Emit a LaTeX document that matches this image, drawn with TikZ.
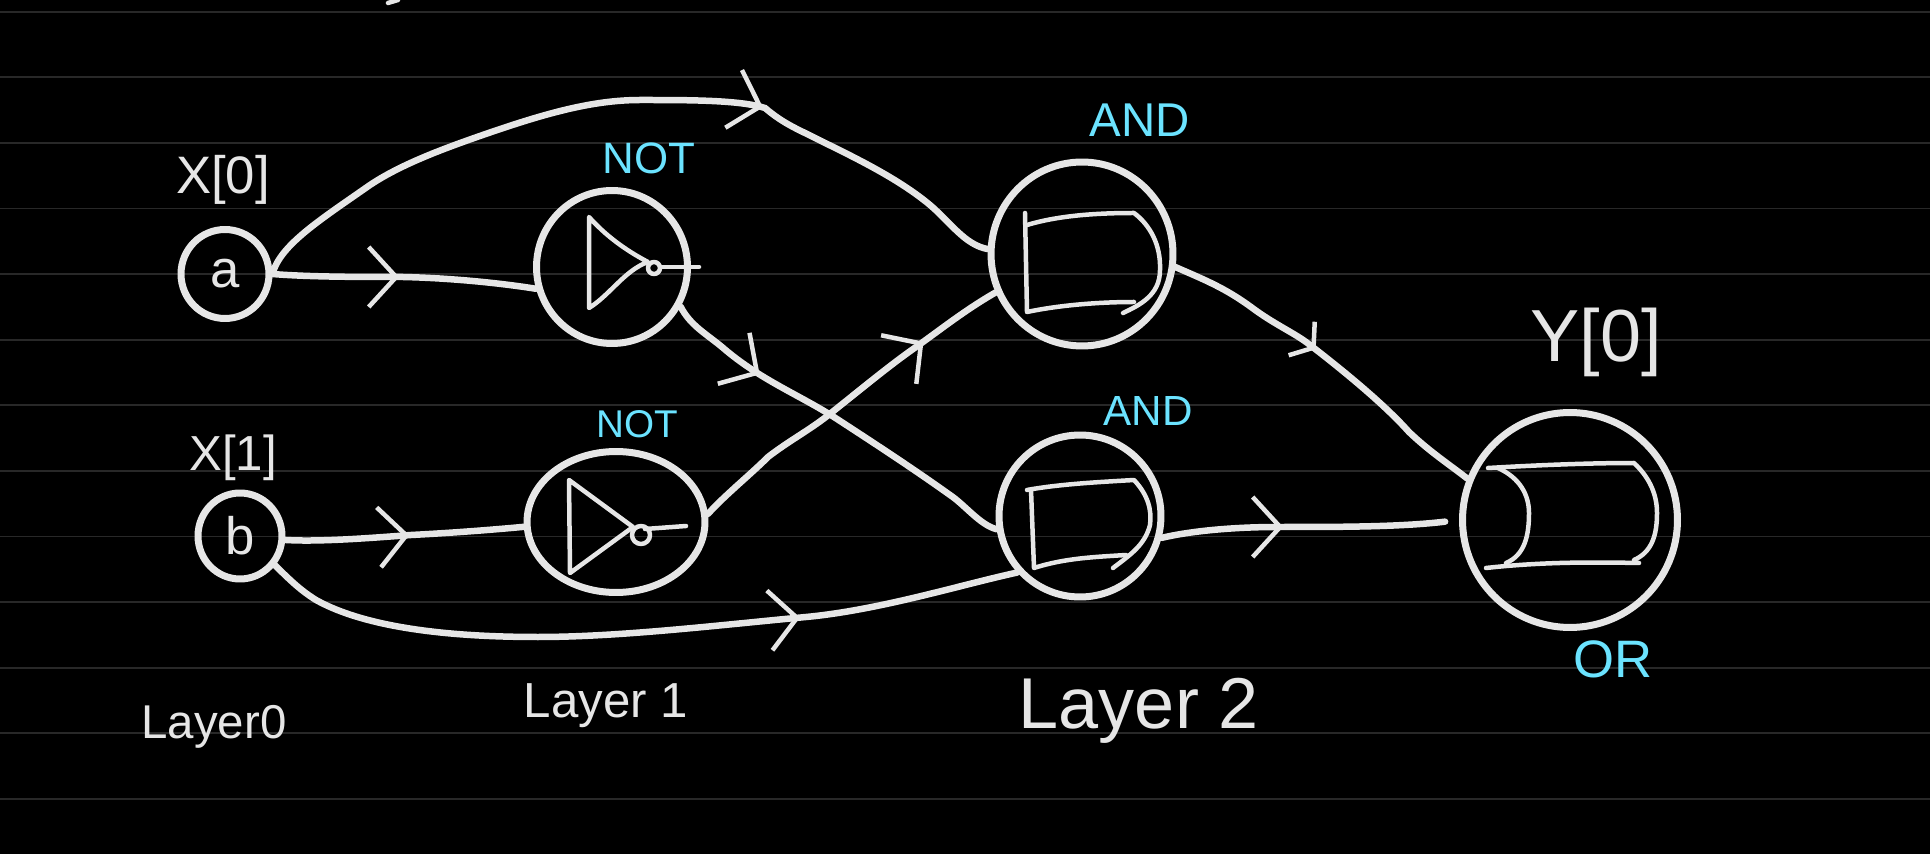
\documentclass[tikz,border=0pt]{standalone}
\usepackage{xcolor}
\usepackage{fontspec}
\usetikzlibrary{arrows.meta,decorations.markings,shapes.geometric}
\setmainfont{Liberation Sans}
\definecolor{inkColor}{RGB}{230, 230, 230}
\definecolor{labelColor}{RGB}{107, 227, 255}
\definecolor{ruleColor}{RGB}{40, 40, 40}
\begin{document}
\begin{tikzpicture}[
    x=0.02cm, y=-0.02cm,
    gate/.style={ellipse, draw=inkColor, line width=0.14cm, inner sep=0pt, text=inkColor},
    wire/.style={draw=inkColor, line width=0.13cm, line cap=round},
    glyph/.style={draw=inkColor, line width=0.09cm, line cap=round, line join=round},
    hand/.style={text=inkColor, inner sep=0pt, font=\fontsize{#1}{#1}\selectfont},
    tag/.style={text=labelColor, inner sep=0pt, font=\fontsize{#1}{#1}\selectfont},
    wiretip/.style={postaction={decorate}, decoration={markings, mark=at position #1 with {\arrow{Straight Barb[length=0.55cm, width=1.2cm, line width=0.09cm]}}}},
    smalltip/.style={postaction={decorate}, decoration={markings, mark=at position #1 with {\arrow{Straight Barb[length=0.3cm, width=0.85cm, line width=0.09cm]}}}}
]
    \useasboundingbox (0,0) rectangle (1930,854);
    \fill[black] (0,0) rectangle (1930,854);
    \foreach \k in {0,...,12}
        \draw[ruleColor, line width=0.035cm] (0,11.7+65.6*\k) -- (1930,11.7+65.6*\k);
    \draw[glyph] (388,3) -- (398,0);

    \node[gate, minimum width=1.76cm, minimum height=1.78cm, font=\fontsize{30}{30}\selectfont] (a) at (225,274) {a};
    \node[gate, minimum width=1.68cm, minimum height=1.72cm, font=\fontsize{30}{30}\selectfont] (b) at (240,536) {b};
    \node[gate, minimum width=3.02cm, minimum height=3.06cm] (not1) at (612,267) {};
    \node[gate, minimum width=3.56cm, minimum height=2.82cm] (not2) at (616,522) {};
    \node[gate, minimum width=3.64cm, minimum height=3.68cm] (and1) at (1082,254) {};
    \node[gate, minimum width=3.24cm, minimum height=3.24cm] (and2) at (1080,516) {};
    \node[gate, minimum width=4.3cm, minimum height=4.3cm] (or) at (1570,520) {};

    \node[hand=30] (x0) at (223,180) {X[0]};
    \node[hand=28] (x1) at (233,458) {X[1]};
    \node[hand=42] (y0) at (1596,342) {Y[0]};
    \node[tag=25] (not1tag) at (649,158) {NOT};
    \node[tag=22] (not2tag) at (637,424) {NOT};
    \node[tag=27] (and1tag) at (1140,120) {AND};
    \node[tag=24] (and2tag) at (1148,411) {AND};
    \node[tag=30] (ortag) at (1613,659) {OR};
    \node[hand=27, anchor=base] (layer0) at (214,738) {Layer0};
    \node[hand=28, anchor=base] (layer1) at (606,717) {Layer 1};
    \node[hand=41, anchor=base] (layer2) at (1139,728) {Layer 2};

    \draw[glyph] (589,217) .. controls (605,235) and (625,250) .. (648,262) .. controls (625,270) and (610,295) .. (589,308) -- cycle;
    \draw[glyph] (654,268) circle[radius=6];
    \draw[glyph] (660,267) -- (699,267);
    \draw[glyph] (569,480) -- (570,573) -- (633,527) -- cycle;
    \draw[glyph] (641,535) circle[radius=9];
    \draw[glyph] (645,529) -- (686,526);

    \draw[glyph] (1025,213) -- (1027,312) .. controls (1060,305) and (1100,302) .. (1134,302);
    \draw[glyph] (1027,225) .. controls (1060,215) and (1100,213) .. (1134,213) .. controls (1150,225) and (1161,245) .. (1160,270) .. controls (1160,295) and (1140,305) .. (1123,313);
    \draw[glyph] (1031,490) -- (1034,568) .. controls (1065,558) and (1095,557) .. (1126,555);
    \draw[glyph] (1027,490) .. controls (1060,484) and (1100,482) .. (1134,480) .. controls (1148,495) and (1152,510) .. (1150,525) .. controls (1145,545) and (1130,555) .. (1113,568);
    \draw[glyph] (1488,468) .. controls (1540,465) and (1590,463) .. (1634,463) .. controls (1650,478) and (1657,495) .. (1657,513) .. controls (1657,535) and (1652,552) .. (1634,560);
    \draw[glyph] (1498,468) .. controls (1520,478) and (1529,495) .. (1529,513) .. controls (1529,535) and (1525,555) .. (1506,563);
    \draw[glyph] (1486,568) .. controls (1540,562) and (1590,562) .. (1639,563);

    \draw[wire, wiretip=0.67] (a.east) .. controls (280,245) and (320,220) .. (370,185) .. controls (400,165) and (440,150) .. (477,137) .. controls (540,115) and (590,100) .. (640,100) .. controls (690,100) and (740,100) .. (765,108) .. controls (785,125) and (800,130) .. (819,140) .. controls (860,160) and (900,180) .. (930,205) .. controls (950,222) and (965,245) .. (and1.177);
    \draw[wire, wiretip=0.48] (a.east) .. controls (310,277) and (360,277) .. (403,277) .. controls (450,278) and (500,283) .. (not1.196);
    \draw[wire, wiretip=0.52] (b.-5) .. controls (320,542) and (370,538) .. (411,535) .. controls (450,533) and (490,530) .. (not2.183);
    \draw[wire, wiretip=0.71] (b.-40) .. controls (290,580) and (300,590) .. (316,600) .. controls (370,630) and (460,637) .. (538,637) .. controls (620,637) and (720,625) .. (806,617) .. controls (880,610) and (960,585) .. (and2.222);
    \draw[wire, wiretip=0.27] (not1.-30) .. controls (690,325) and (705,333) .. (722,347) .. controls (760,380) and (800,395) .. (837,419) .. controls (880,447) and (915,470) .. (950,495) .. controls (965,505) and (980,525) .. (and2.189);
    \draw[wire, wiretip=0.76] (not2.5) .. controls (725,495) and (750,475) .. (768,457) .. controls (790,440) and (810,430) .. (831,413) .. controls (860,390) and (890,365) .. (916,347) .. controls (940,330) and (965,310) .. (and1.204);
    \draw[wire, smalltip=0.45] (and1.-8) .. controls (1205,280) and (1225,288) .. (1251,307) .. controls (1275,325) and (1295,333) .. (1310,345) .. controls (1345,372) and (1385,405) .. (1409,432) .. controls (1430,452) and (1450,465) .. (or.158);
    \draw[wire, wiretip=0.41, shorten >=0.28cm] (and2.-15) .. controls (1195,530) and (1240,527) .. (1277,527) .. controls (1340,527) and (1400,527) .. (or.180);
\end{tikzpicture}
\end{document}
